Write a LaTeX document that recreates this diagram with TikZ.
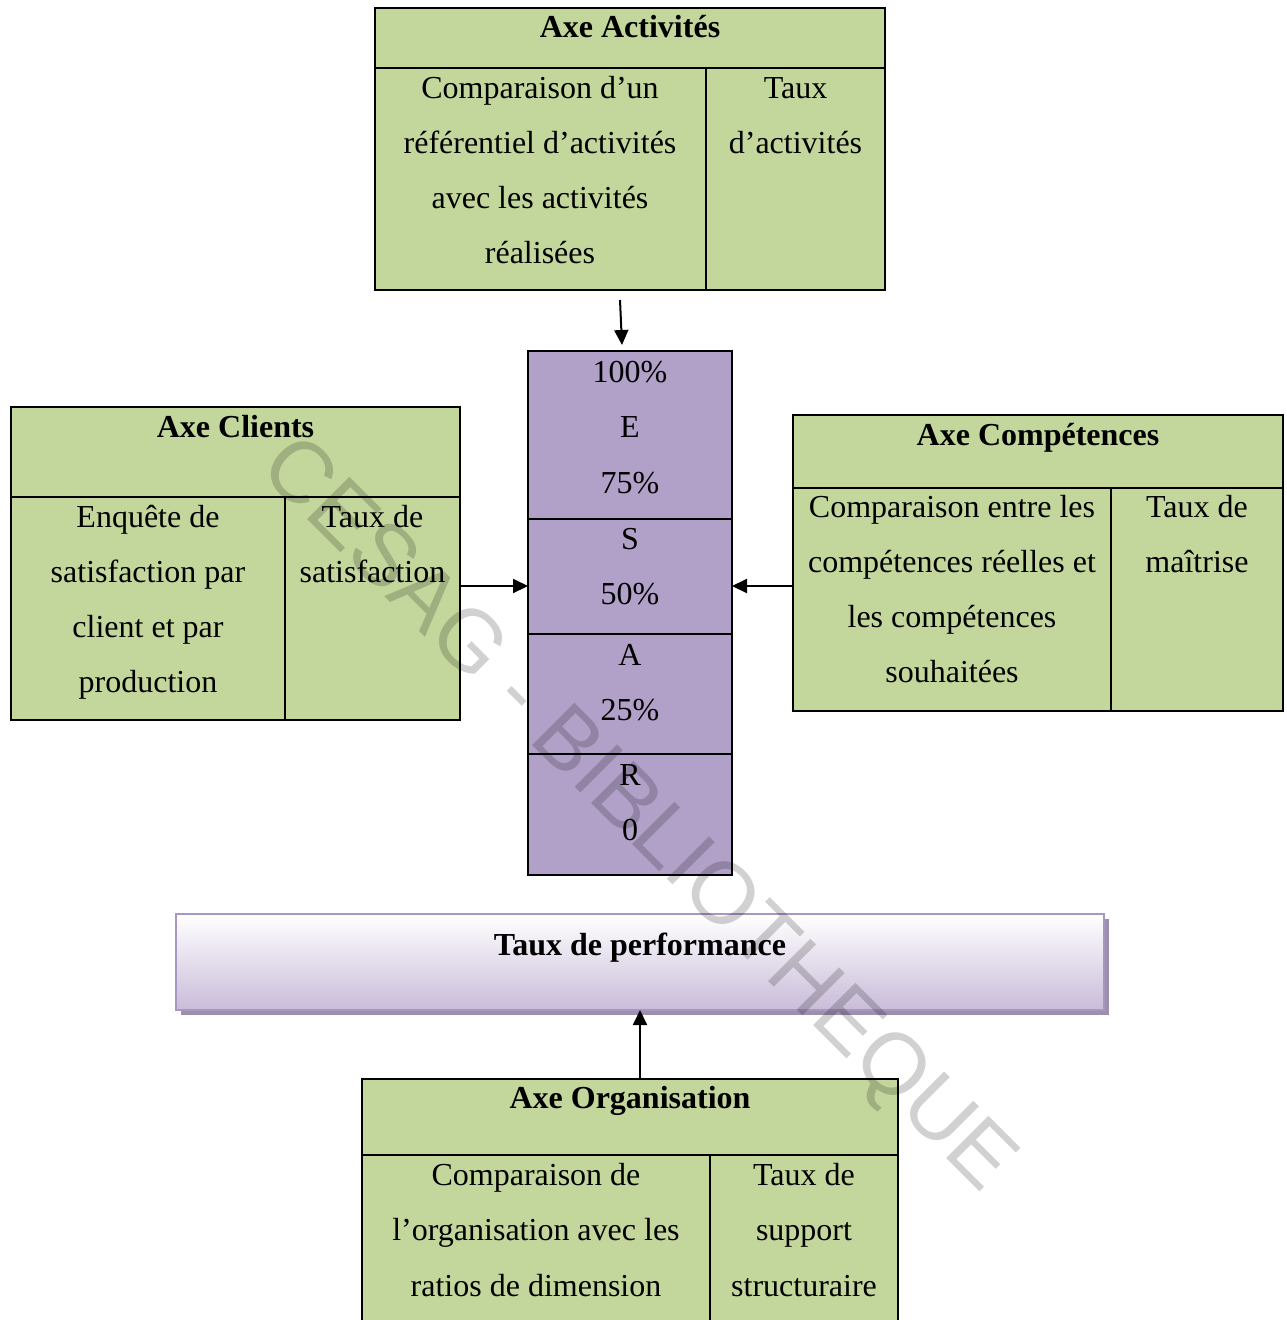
\documentclass[tikz,border=0pt]{standalone}
\usepackage{fontspec}
\setmainfont{Liberation Serif}
\newfontfamily\wmfont{Liberation Sans}
\usetikzlibrary{arrows.meta}

\definecolor{boxgreen}{HTML}{C3D69B}
\definecolor{scalepurple}{HTML}{B1A0C7}
\definecolor{barlow}{HTML}{C9BCD9}
\definecolor{baredge}{HTML}{A797C3}
\definecolor{barshadow}{HTML}{9C90AC}

% one text node per line: name prefix, x, first baseline, line step, lines
\newcommand\stack[5]{%
  \foreach \t [count=\i] in {#5}{\node[txt] (#1\i) at (#2,{#3+#4*(\i-1)}) {\t};}}

\begin{document}
\begin{tikzpicture}[x=1pt,y=-1pt,
  panel/.style={draw=black,line width=2.2pt,fill=boxgreen,inner sep=0pt,outer sep=0pt,anchor=north west},
  rule/.style={line width=2.2pt},
  txt/.style={anchor=base,inner sep=0pt,font=\fontsize{32}{38}\selectfont},
  ttl/.style={anchor=base,inner sep=0pt,font=\fontsize{32}{38}\selectfont\bfseries},
  conn/.style={line width=2pt,-{Triangle[length=15pt,width=14pt]}},
]
\clip (0,0) rectangle (1286,1320);
\fill[white] (0,0) rectangle (1286,1320);

% Axe Activités
\node[panel,minimum width=510pt,minimum height=282pt] (act) at (375,8) {};
\draw[rule] (375,68) -- (885,68);
\draw[rule] (706,68) -- (706,290);
\node[ttl] (actT) at (630,37) {Axe Activités};
\stack{actL}{540}{98}{55}{Comparaison d’un, référentiel d’activités, avec les activités, réalisées}
\stack{actR}{795.5}{98}{55}{Taux, d’activités}

% rating scale
\node[draw=black,line width=2.2pt,fill=scalepurple,minimum width=204pt,minimum height=524pt,
      anchor=north west,inner sep=0pt,outer sep=0pt] (scale) at (528,351) {};
\draw[rule] (528,519) -- (732,519);
\draw[rule] (528,634) -- (732,634);
\draw[rule] (528,754) -- (732,754);
\stack{scE}{630}{382}{55.5}{100\%, E, 75\%}
\stack{scS}{630}{549}{55.5}{S, 50\%}
\stack{scA}{630}{665}{55.5}{A, 25\%}
\stack{scR}{630}{785}{55.5}{R, 0}

% Axe Clients
\node[panel,minimum width=449pt,minimum height=313pt] (cli) at (11,407) {};
\draw[rule] (11,497) -- (460,497);
\draw[rule] (285,497) -- (285,720);
\node[ttl] (cliT) at (235.5,437) {Axe Clients};
\stack{cliL}{148}{527}{55}{Enquête de, satisfaction par, client et par, production}
\stack{cliR}{372.5}{527}{55}{Taux de, satisfaction}

% Axe Compétences
\node[panel,minimum width=490pt,minimum height=296pt] (comp) at (793,415) {};
\draw[rule] (793,488) -- (1283,488);
\draw[rule] (1111,488) -- (1111,711);
\node[ttl] (compT) at (1038,445) {Axe Compétences};
\stack{compL}{952}{517}{55}{Comparaison entre les, compétences réelles et, les compétences, souhaitées}
\stack{compR}{1197}{517}{55}{Taux de, maîtrise}

% Taux de performance bar with its shadow
\fill[barshadow] (181,919) rectangle (1109,1015);
\node[draw=baredge,line width=2.5pt,top color=white,bottom color=barlow,minimum width=928pt,
      minimum height=96pt,anchor=north west,inner sep=0pt,outer sep=0pt] (perf) at (176,914) {};
\node[ttl] (perfT) at (640,955) {Taux de performance};

% Axe Organisation
\node[panel,minimum width=536pt,minimum height=270pt] (org) at (362,1079) {};
\draw[rule] (362,1155) -- (898,1155);
\draw[rule] (710,1155) -- (710,1349);
\node[ttl] (orgT) at (630,1108) {Axe Organisation};
\stack{orgL}{536}{1185}{55.5}{Comparaison de, l’organisation avec les, ratios de dimension}
\stack{orgR}{804}{1185}{55.5}{Taux de, support, structuraire}

% connectors
\draw[conn] ([xshift=-10pt,yshift=-10pt]act.south) -- ([xshift=-8pt,yshift=6pt]scale.north);
\draw[conn] (cli.east |- 0,586) -- (scale.west |- 0,586);
\draw[conn] (comp.west |- 0,586) -- (scale.east |- 0,586);
\draw[conn] (perf.south |- org.north) -- (perf.south);

% watermark
\node[rotate=-45,text=black,text opacity=0.18,inner sep=0pt,
      font=\wmfont\fontsize{87}{87}\selectfont] (wm) at (636,817) {CESAG - BIBLIOTHEQUE};
\end{tikzpicture}
\end{document}
